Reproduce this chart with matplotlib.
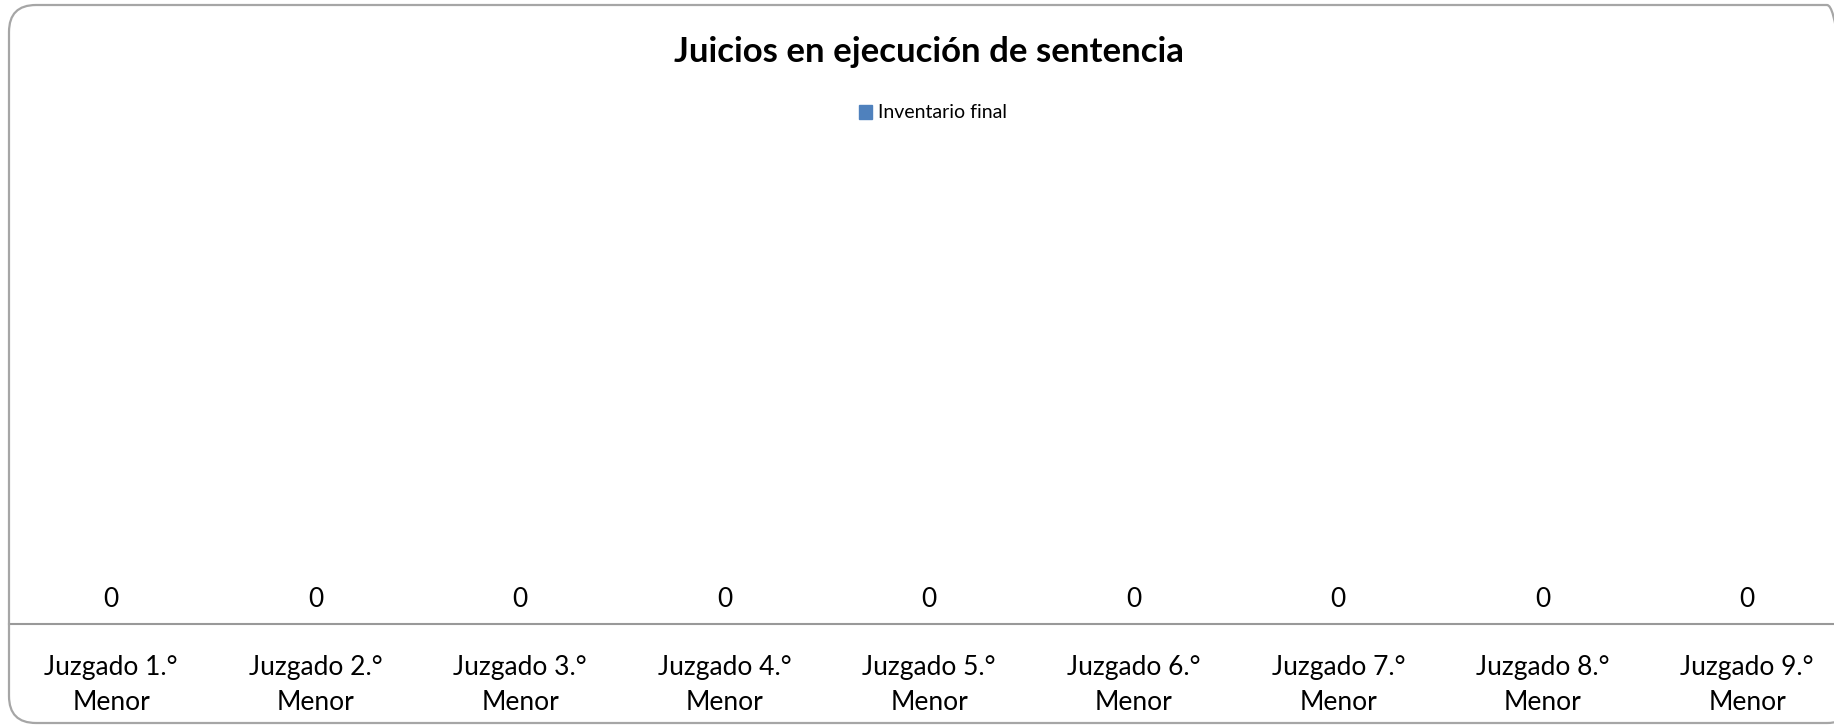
import matplotlib.pyplot as plt
from matplotlib.patches import FancyBboxPatch, Patch
from matplotlib.transforms import IdentityTransform

categories = ["Juzgado 1.°\nMenor", "Juzgado 2.°\nMenor", "Juzgado 3.°\nMenor",
              "Juzgado 4.°\nMenor", "Juzgado 5.°\nMenor", "Juzgado 6.°\nMenor",
              "Juzgado 7.°\nMenor", "Juzgado 8.°\nMenor", "Juzgado 9.°\nMenor"]
inventario_final = [0, 0, 0, 0, 0, 0, 0, 0, 0]
series_name = "Inventario final"
title = "Juicios en ejecución de sentencia"

plt.rcParams['font.family'] = ['Lato', 'DejaVu Sans']

W, H = 1834, 725
fig = plt.figure(figsize=(W / 100, H / 100), dpi=100)

# plot area runs off the right edge like in the original
left, right = 9 / W, 1849.5 / W
bottom, top = (H - 624) / H, (H - 150) / H
ax = fig.add_axes([left, bottom, right - left, top - bottom])

x = list(range(len(categories)))
bars = ax.bar(x, inventario_final, width=0.6, color="#4F81BD")
ax.bar_label(bars, padding=8.5, fontsize=19, color="black")

ax.set_xlim(-0.5, len(categories) - 0.5)
ax.set_ylim(0, 1)
ax.set_xticks(x)
ax.set_xticklabels(categories, fontsize=19, linespacing=1.5)
ax.tick_params(axis="x", length=0, pad=22)
ax.set_yticks([])
for s in ["top", "left", "right"]:
    ax.spines[s].set_visible(False)
ax.spines["bottom"].set_color("#999999")
ax.spines["bottom"].set_linewidth(1.5)

fig.text(929 / W, 1 - 52 / H, title, ha="center", va="center",
         fontsize=25, fontweight="bold")

fig.legend(handles=[Patch(color="#4F81BD", label=series_name)],
           loc="center", bbox_to_anchor=(933 / W, 1 - 113 / H), frameon=False,
           fontsize=14, handlelength=0.7, handleheight=0.7, handletextpad=0.3)

# rounded chart border
border = FancyBboxPatch((9, 2), 1845, H - 7, boxstyle="round,pad=0,rounding_size=27",
                        transform=IdentityTransform(), facecolor="none",
                        edgecolor="#a6a6a6", linewidth=1.6)
fig.patches.append(border)

fig.savefig("out.png", dpi=100)
